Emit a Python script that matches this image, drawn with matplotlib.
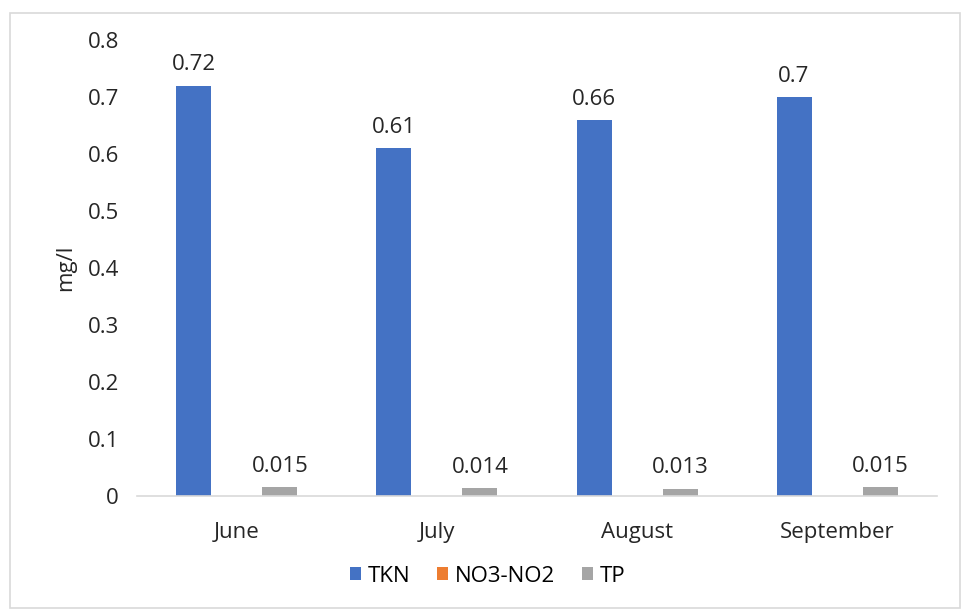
import numpy as np
import matplotlib.pyplot as plt
from matplotlib.patches import Rectangle

months = ['June', 'July', 'August', 'September']
tkn = [0.72, 0.61, 0.66, 0.7]
no3_no2 = [0, 0, 0, 0]
tp = [0.015, 0.014, 0.013, 0.015]
tkn_labels = ['0.72', '0.61', '0.66', '0.7']
tp_labels = ['0.015', '0.014', '0.013', '0.015']

plt.rcParams['font.family'] = ['Open Sans', 'DejaVu Sans']
fs = 16

fig = plt.figure(figsize=(9.66, 6.13), dpi=100)
fig.patches.append(Rectangle((0.010, 0.008), 0.984, 0.971, transform=fig.transFigure,
                             fill=False, edgecolor='#D9D9D9', linewidth=1.2))
ax = fig.add_axes([0.1418, 0.1909, 0.8282, 0.7438])

x = np.arange(len(months))
w = 0.175
off = 0.215
b1 = ax.bar(x - off, tkn, w, color='#4472C4', label='TKN')
b2 = ax.bar(x, no3_no2, w, color='#ED7D31', label='NO3-NO2')
b3 = ax.bar(x + off, tp, w, color='#A5A5A5', label='TP')

for rect, lab in zip(b1, tkn_labels):
    ax.text(rect.get_x() + rect.get_width() / 2, rect.get_height() + 0.018, lab,
            ha='center', va='bottom', fontsize=fs, color='#262626')
for rect, lab in zip(b3, tp_labels):
    ax.text(rect.get_x() + rect.get_width() / 2, rect.get_height() + 0.018, lab,
            ha='center', va='bottom', fontsize=fs, color='#262626')

ax.set_xlim(-0.5, 3.5)
ax.set_ylim(0, 0.8)
ax.set_yticks(np.arange(0, 0.81, 0.1))
ax.set_yticklabels(['0', '0.1', '0.2', '0.3', '0.4', '0.5', '0.6', '0.7', '0.8'])
ax.set_xticks(x)
ax.set_xticklabels(months)
ax.tick_params(axis='both', length=0, labelsize=fs, colors='#262626')
ax.tick_params(axis='y', pad=13)
ax.tick_params(axis='x', pad=19)
for s in ['top', 'right', 'left']:
    ax.spines[s].set_visible(False)
ax.spines['bottom'].set_color('#D9D9D9')
ax.spines['bottom'].set_linewidth(1.2)
ax.set_ylabel('mg/l', fontsize=fs, color='#262626', labelpad=8)

fig.legend(handles=[b1, b2, b3], loc='center', bbox_to_anchor=(0.505, 0.06), ncol=3,
           frameon=False, fontsize=fs, handlelength=0.5, handleheight=0.5,
           handletextpad=0.3, columnspacing=1.2)

fig.savefig('out.png', dpi=100)
